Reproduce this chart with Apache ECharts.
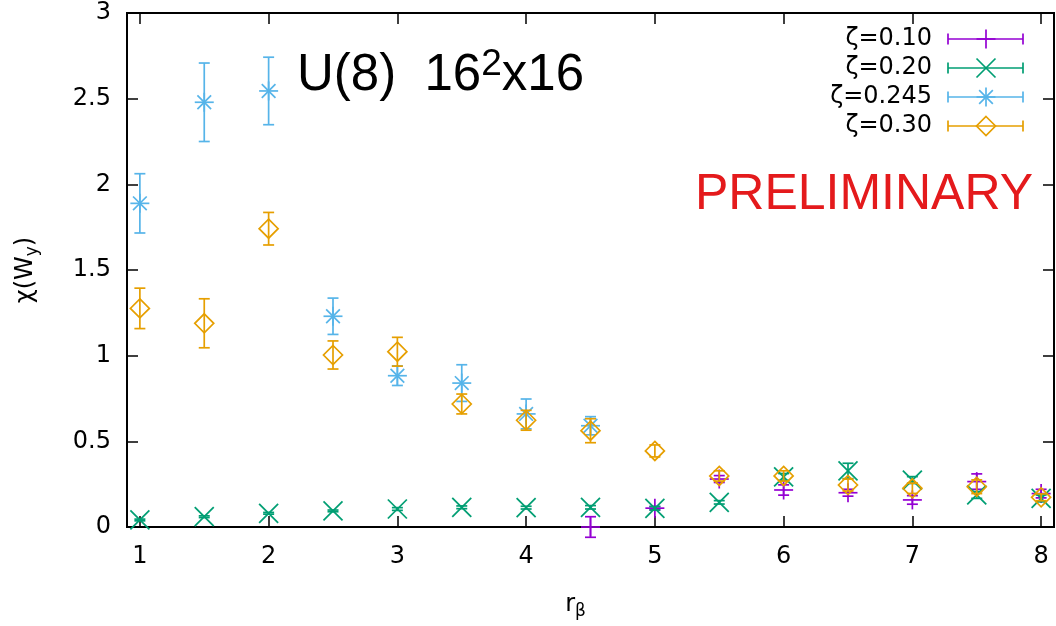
<!DOCTYPE html>
<html>
<head>
<meta charset="utf-8">
<script src="https://cdn.jsdelivr.net/npm/echarts@6/dist/echarts.min.js"></script>
<style>
html, body { margin: 0; padding: 0; background: #fff; }
#chart { width: 1056px; height: 626px; }
</style>
</head>
<body>
<div id="chart"></div>
<script>
// r_beta 取值
const rBeta = [1, 1.5, 2, 2.5, 3, 3.5, 4, 4.5, 5, 5.5, 6, 6.5, 7, 7.5, 8];

// 各 zeta 的数值和误差（null = 没有点）
const chi010 = [null, null, null, null, null, null, null, 0.0, 0.11, 0.28, 0.216, 0.20, 0.158, 0.265, 0.195];
const err010 = [null, null, null, null, null, null, null, 0.06, 0.01, 0.02, 0.03, 0.02, 0.025, 0.045, 0.025];

const chi020 = [0.041, 0.060, 0.080, 0.094, 0.105, 0.115, 0.113, 0.115, 0.109, 0.144, 0.292, 0.327, 0.274, 0.187, 0.167];
const err020 = [0.005, 0.005, 0.005, 0.005, 0.008, 0.008, 0.008, 0.01, 0.01, 0.01, 0.02, 0.045, 0.02, 0.02, 0.02];

const chi0245 = [1.889, 2.479, 2.545, 1.230, 0.883, 0.840, 0.660, 0.591, null, null, null, null, null, null, null];
const err0245 = [0.173, 0.229, 0.197, 0.106, 0.057, 0.107, 0.087, 0.053, null, null, null, null, null, null, null];

const chi030 = [1.276, 1.189, 1.741, 1.004, 1.023, 0.718, 0.623, 0.562, 0.444, 0.298, 0.298, 0.245, 0.226, 0.235, 0.173];
const err030 = [0.118, 0.143, 0.095, 0.082, 0.084, 0.058, 0.058, 0.07, 0.035, 0.03, 0.03, 0.035, 0.03, 0.04, 0.02];

const seriesNames = ['ζ=0.10', 'ζ=0.20', 'ζ=0.245', 'ζ=0.30'];
const xTicks = [1, 2, 3, 4, 5, 6, 7, 8];

const dom = document.getElementById('chart');
const myChart = echarts.init(dom);

const colors = ['#9400d3', '#009e73', '#56b4e9', '#e69f00'];
const kinds = ['plus', 'cross', 'star', 'diamond'];
const valueLists = [chi010, chi020, chi0245, chi030];
const errLists = [err010, err020, err0245, err030];

const LW = 1.7;
const R = 9.5;   // 点的半径
const CAP = 5.5; // 误差棒横线半宽

function seg(x1, y1, x2, y2, st) {
    return { type: 'line', shape: { x1, y1, x2, y2 }, style: st };
}

// 画点的形状
function markerShapes(kind, cx, cy, r, st) {
    const plus = [seg(cx - r, cy, cx + r, cy, st), seg(cx, cy - r, cx, cy + r, st)];
    const cross = [seg(cx - r, cy - r, cx + r, cy + r, st), seg(cx - r, cy + r, cx + r, cy - r, st)];
    if (kind === 'plus') return plus;
    if (kind === 'cross') return cross;
    if (kind === 'star') {
        const d = r * 0.72;
        return plus.concat([seg(cx - d, cy - d, cx + d, cy + d, st), seg(cx - d, cy + d, cx + d, cy - d, st)]);
    }
    return [{
        type: 'polygon',
        shape: { points: [[cx, cy - r], [cx + r, cy], [cx, cy + r], [cx - r, cy]] },
        style: st
    }];
}

function makeRender(kind, color) {
    return function (params, api) {
        const x = api.value(0), y = api.value(1), e = api.value(2);
        const c = api.coord([x, y]);
        const t = api.coord([x, y + e]);
        const b = api.coord([x, y - e]);
        const st = { stroke: color, lineWidth: LW, fill: 'none' };
        const children = [
            seg(c[0], t[1], c[0], b[1], st),
            seg(c[0] - CAP, t[1], c[0] + CAP, t[1], st),
            seg(c[0] - CAP, b[1], c[0] + CAP, b[1], st)
        ].concat(markerShapes(kind, c[0], c[1], R, st));
        return { type: 'group', children: children };
    };
}

let seriesArr = [];
seriesNames.forEach((name, i) => {
    let data = [];
    rBeta.forEach((x, j) => {
        if (valueLists[i][j] != null) data.push([x, valueLists[i][j], errLists[i][j]]);
    });
    seriesArr.push({
        name: name,
        type: 'custom',
        xAxisIndex: 0,
        yAxisIndex: 0,
        encode: { x: 0, y: 1 },
        data: data,
        renderItem: makeRender(kinds[i], colors[i]),
        clip: false,
        silent: true
    });
});

// 图例（手画，文字在左，误差棒样例在右）
let legendGraphics = [];
seriesNames.forEach((name, i) => {
    const cy = 39 + i * 29;
    const st = { stroke: colors[i], lineWidth: LW, fill: 'none' };
    legendGraphics.push({
        type: 'text',
        x: 932, y: cy,
        style: {
            text: name, fill: '#000', fontSize: 24, fontFamily: 'DejaVu Sans',
            align: 'right', verticalAlign: 'middle'
        }
    });
    legendGraphics.push({
        type: 'group',
        children: [
            seg(948, cy, 1023, cy, st),
            seg(948, cy - CAP, 948, cy + CAP, st),
            seg(1023, cy - CAP, 1023, cy + CAP, st)
        ].concat(markerShapes(kinds[i], 986, cy, R, st))
    });
});

const tickStyle = { color: '#000', width: 1.5 };
const labelFont = { color: '#000', fontSize: 24, fontFamily: 'DejaVu Sans' };

const option = {
    backgroundColor: '#fff',
    animation: false,
    grid: {
        left: 127, right: 2, top: 13, bottom: 99,
        show: true, borderColor: '#000', borderWidth: 2
    },
    xAxis: [{
        type: 'value', min: 0.9, max: 8.1, position: 'bottom',
        axisLine: { show: true, onZero: false, lineStyle: { color: '#000', width: 2 } },
        axisTick: { show: true, inside: true, length: 11, customValues: xTicks, lineStyle: tickStyle },
        axisLabel: Object.assign({ customValues: xTicks, margin: 18 }, labelFont),
        splitLine: { show: false },
        name: '{a|r}{s|β}',
        nameLocation: 'middle',
        nameGap: 62,
        nameTextStyle: {
            padding: [0, 30, 0, 0],
            rich: {
                a: { fontSize: 24, fontFamily: 'DejaVu Sans', color: '#000' },
                s: { fontSize: 17, fontFamily: 'DejaVu Sans', color: '#000', padding: [14, 0, 0, 0] }
            }
        }
    }, {
        type: 'value', min: 0.9, max: 8.1, position: 'top',
        axisLine: { show: true, onZero: false, lineStyle: { color: '#000', width: 2 } },
        axisTick: { show: true, inside: true, length: 11, customValues: xTicks, lineStyle: tickStyle },
        axisLabel: { show: false },
        splitLine: { show: false }
    }],
    yAxis: [{
        type: 'value', min: 0, max: 3, interval: 0.5, position: 'left',
        axisLine: { show: true, onZero: false, lineStyle: { color: '#000', width: 2 } },
        axisTick: { show: true, inside: true, length: 11, lineStyle: tickStyle },
        axisLabel: Object.assign({ margin: 16 }, labelFont),
        splitLine: { show: false },
        name: '{a|χ(W}{s|y}{a|)}',
        nameLocation: 'middle',
        nameRotate: 90,
        nameGap: 86,
        nameTextStyle: {
            rich: {
                a: { fontSize: 24, fontFamily: 'DejaVu Sans', color: '#000' },
                s: { fontSize: 17, fontFamily: 'DejaVu Sans', color: '#000', padding: [14, 0, 0, 0] }
            }
        }
    }, {
        type: 'value', min: 0, max: 3, interval: 0.5, position: 'right',
        axisLine: { show: true, onZero: false, lineStyle: { color: '#000', width: 2 } },
        axisTick: { show: true, inside: true, length: 11, lineStyle: tickStyle },
        axisLabel: { show: false },
        splitLine: { show: false }
    }],
    graphic: [{
        type: 'text',
        x: 297, y: 46,
        style: {
            text: '{a|U(8)  16}{s|2}{a|x16}',
            rich: {
                a: { fontSize: 51, fontFamily: 'Liberation Sans', fill: '#000', lineHeight: 60 },
                s: { fontSize: 37, fontFamily: 'Liberation Sans', fill: '#000', verticalAlign: 'top', lineHeight: 60, padding: [0, 0, 22, 0] }
            }
        }
    }, {
        type: 'text',
        x: 1033, y: 195,
        style: {
            text: 'PRELIMINARY', fill: '#e41a1c', fontSize: 50, fontFamily: 'Liberation Sans',
            align: 'right', verticalAlign: 'middle'
        }
    }].concat(legendGraphics),
    series: seriesArr
};

myChart.setOption(option);

window.addEventListener('resize', function () {
    myChart.resize();
});
</script>
</body>
</html>
